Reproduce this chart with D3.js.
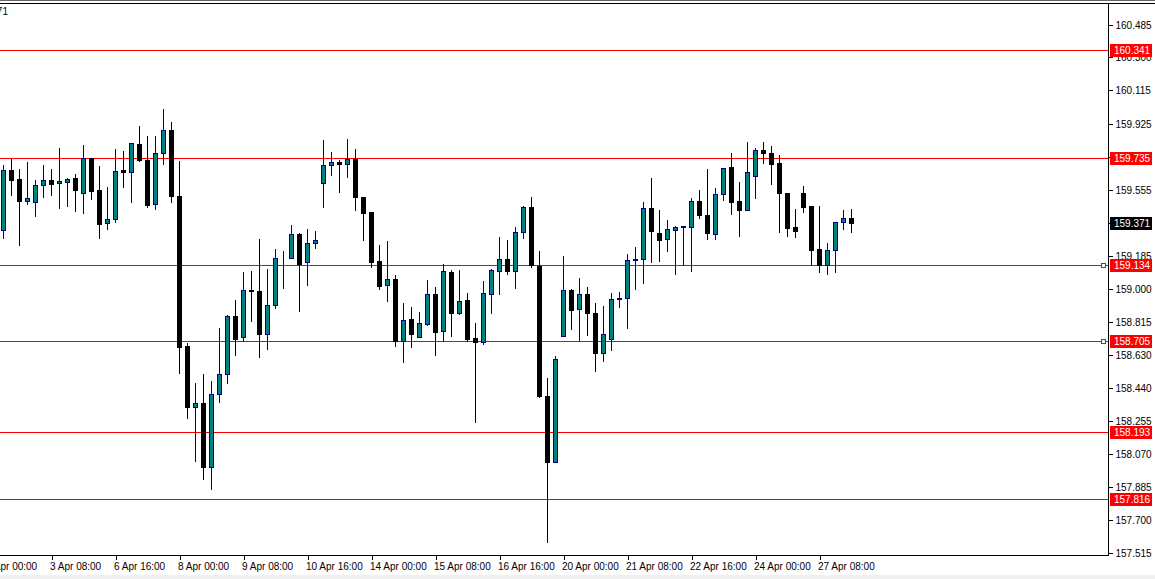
<!DOCTYPE html>
<html>
<head>
<meta charset="utf-8">
<script src="https://cdn.jsdelivr.net/npm/d3@7"></script>
<style>
  html, body { margin: 0; padding: 0; background: #fff; }
  svg { display: block; }
  text { font-family: "Liberation Sans", Arial, sans-serif; font-size: 10px; }
</style>
</head>
<body>
<svg id="chart" width="1155" height="579"></svg>
<script>
// ---------------- DATA (H4 candles) ----------------
const open = [
159.328,159.668,159.617,159.495,159.486,159.582,159.611,159.593,159.598,159.623,
159.537,159.733,159.555,159.368,159.390,159.666,159.655,159.814,159.724,159.475,
159.761,159.892,159.521,158.678,158.337,158.356,157.999,158.406,158.519,158.847,
158.727,158.993,158.987,158.747,158.907,159.171,159.171,159.308,159.149,159.255,
159.597,159.694,159.711,159.700,159.731,159.516,159.431,159.156,159.019,159.055,
158.706,158.830,158.727,158.799,158.969,158.761,159.092,158.865,158.937,158.721,
158.699,158.972,159.098,159.165,159.098,159.317,159.460,159.129,158.397,158.027,
158.732,158.993,158.884,158.969,158.864,158.637,158.716,158.941,158.946,159.160,
159.165,159.452,159.313,159.278,159.328,159.345,159.349,159.493,159.415,159.309,
159.531,159.684,159.493,159.441,159.632,159.780,159.763,159.707,159.540,159.347,
159.538,159.465,159.225,159.135,159.216,159.373,159.396];
const high = [
159.701,159.733,159.679,159.718,159.615,159.700,159.679,159.797,159.630,159.649,
159.814,159.741,159.696,159.579,159.791,159.780,159.825,159.921,159.864,159.864,
160.016,159.943,159.722,158.702,158.476,158.528,158.487,158.785,158.856,158.942,
159.100,159.105,159.285,159.117,159.229,159.218,159.364,159.319,159.341,159.330,
159.842,159.774,159.729,159.848,159.791,159.523,159.431,159.251,159.274,159.083,
158.925,158.903,158.875,159.055,159.014,159.145,159.111,159.111,158.982,158.813,
159.049,159.117,159.296,159.280,159.353,159.471,159.521,159.218,158.504,158.627,
159.190,159.004,159.066,159.014,158.925,158.909,158.982,158.987,159.201,159.240,
159.493,159.628,159.448,159.392,159.358,159.357,159.516,159.561,159.680,159.572,
159.684,159.769,159.606,159.831,159.797,159.831,159.808,159.758,159.540,159.454,
159.583,159.465,159.471,159.261,159.373,159.448,159.454];
const low = [
159.287,159.529,159.248,159.478,159.411,159.517,159.529,159.456,159.467,159.439,
159.427,159.506,159.287,159.338,159.377,159.574,159.489,159.716,159.461,159.450,
159.703,159.489,158.528,158.275,158.033,157.932,157.876,158.365,158.470,158.629,
158.708,158.820,158.618,158.663,158.893,159.006,159.171,158.876,159.023,159.231,
159.462,159.641,159.546,159.630,159.444,159.276,159.124,159.000,158.933,158.680,
158.590,158.674,158.727,158.798,158.629,158.708,158.736,158.860,158.708,158.252,
158.688,158.865,158.972,159.084,159.006,159.287,159.124,158.393,157.578,158.027,
158.732,158.775,158.713,158.741,158.539,158.595,158.657,158.899,158.781,159.000,
159.032,159.152,159.158,159.214,159.083,159.132,159.101,159.398,159.281,159.281,
159.499,159.422,159.296,159.441,159.512,159.707,159.591,159.321,159.298,159.293,
159.433,159.133,159.096,159.081,159.096,159.334,159.321];
const close = [
159.666,159.613,159.495,159.508,159.582,159.610,159.591,159.604,159.615,159.557,
159.733,159.551,159.366,159.390,159.660,159.658,159.818,159.722,159.472,159.761,
159.892,159.523,158.674,158.337,158.356,157.999,158.406,158.519,158.845,158.719,
158.993,158.986,158.747,158.907,159.171,159.173,159.306,159.141,159.255,159.272,
159.694,159.711,159.700,159.731,159.514,159.427,159.152,159.017,159.055,158.706,
158.822,158.747,158.806,158.969,158.758,159.098,158.865,158.929,158.719,158.699,
158.974,159.104,159.165,159.101,159.317,159.460,159.133,158.398,158.027,158.603,
158.993,158.882,158.969,158.865,158.640,158.744,158.941,158.946,159.160,159.165,
159.452,159.326,159.276,159.336,159.345,159.351,159.493,159.416,159.315,159.533,
159.679,159.489,159.441,159.655,159.778,159.765,159.703,159.537,159.343,159.326,
159.461,159.219,159.135,159.216,159.373,159.396,159.371];

// time axis labels (bar index -> label)
const timeTickIndex  = [-2, 6, 14, 22, 30, 38, 46, 54, 62, 70, 78, 86, 94, 102];
const timeTickLabels = ["2 Apr 00:00","3 Apr 08:00","6 Apr 16:00","8 Apr 00:00","9 Apr 08:00",
  "10 Apr 16:00","14 Apr 00:00","15 Apr 08:00","16 Apr 16:00","20 Apr 00:00",
  "21 Apr 08:00","22 Apr 16:00","24 Apr 00:00","27 Apr 08:00"];

// price axis ticks
const priceTicks = [160.485,160.300,160.115,159.925,159.740,159.555,159.370,159.185,
  159.000,158.815,158.630,158.440,158.255,158.070,157.885,157.700,157.515];

// horizontal level lines
const levels = [160.341, 159.735, 159.134, 158.705, 158.193, 157.816];
const levelMarked = [false, false, true, true, false, false];
const lastPrice = 159.371;

// ---------------- DRAWING ----------------
const svg = d3.select("#chart");
const W = 1155, H = 579;
const plotRight = 1108.5, plotTop = 3, plotBottom = 555.5;

svg.append("rect").attr("width", W).attr("height", H).attr("fill", "#fff");

const x = d3.scaleLinear().domain([0, 106]).range([3.5, 3.5 + 8 * 106]);
const y = d3.scaleLinear().domain([157.816, 160.341]).range([499.3, 50.2]);
const py = v => Math.round(y(v)) + 0.5;

const defs = svg.append("defs");
defs.append("clipPath").attr("id", "plotclip").append("rect")
  .attr("x", 0).attr("y", plotTop).attr("width", plotRight).attr("height", plotBottom - plotTop);

// window bits
svg.append("rect").attr("x", 0).attr("y", 575).attr("width", W).attr("height", 4).attr("fill", "#f0f0f0");
svg.append("line").attr("x1", 0).attr("x2", W).attr("y1", 0.5).attr("y2", 0.5).attr("stroke", "#666");
svg.append("line").attr("x1", 0).attr("x2", W).attr("y1", 3.5).attr("y2", 3.5).attr("stroke", "#000");

// title fragment
svg.append("text").attr("x", 8).attr("y", 15).attr("text-anchor", "end").attr("fill", "#000").text("159.371");

const plot = svg.append("g").attr("clip-path", "url(#plotclip)");

// level lines
levels.forEach((lv, i) => {
  plot.append("line").attr("x1", 0).attr("x2", plotRight).attr("y1", py(lv)).attr("y2", py(lv))
    .attr("stroke", "#ff0000").attr("stroke-width", 1).attr("shape-rendering", "crispEdges");
  if (levelMarked[i]) {
    plot.append("rect").attr("x", 1101.5).attr("y", py(lv) - 2).attr("width", 4).attr("height", 4)
      .attr("fill", "#fff").attr("stroke", "#ff0000").attr("shape-rendering", "crispEdges");
  }
});

// candles
const bars = d3.range(open.length).map(i => ({ i, o: open[i], h: high[i], l: low[i], c: close[i] }));
const g = plot.append("g").attr("shape-rendering", "crispEdges");
const bull = d => d.c > d.o || (d.c === d.o);
g.selectAll("line.wick").data(bars).join("line").attr("class", "wick")
  .attr("x1", d => x(d.i)).attr("x2", d => x(d.i))
  .attr("y1", d => py(d.h)).attr("y2", d => py(d.l))
  .attr("stroke", d => bull(d) ? "#000080" : "#000000");
g.selectAll("rect.body").data(bars).join("rect").attr("class", "body")
  .attr("x", d => x(d.i) - 2).attr("width", 4)
  .attr("y", d => Math.min(py(d.o), py(d.c)))
  .attr("height", d => Math.abs(py(d.o) - py(d.c)))
  .attr("fill", d => bull(d) ? "#008080" : "#000000")
  .attr("stroke", d => bull(d) ? "#000080" : "#000000");

// frame
svg.append("line").attr("x1", plotRight).attr("x2", plotRight).attr("y1", plotTop).attr("y2", plotBottom)
  .attr("stroke", "#000").attr("shape-rendering", "crispEdges");
svg.append("line").attr("x1", 0).attr("x2", plotRight).attr("y1", plotBottom).attr("y2", plotBottom)
  .attr("stroke", "#000").attr("shape-rendering", "crispEdges");

// price axis
const yAxis = d3.axisRight(y).tickValues(priceTicks).tickSize(4).tickPadding(3).tickFormat(d3.format(".3f"));
const ya = svg.append("g").attr("transform", `translate(${plotRight},0)`).call(yAxis);
ya.select(".domain").remove();
ya.selectAll(".tick").attr("transform", d => `translate(0,${py(d)})`);
ya.selectAll("line").attr("stroke", "#000").attr("shape-rendering", "crispEdges");
ya.selectAll("text").attr("fill", "#000").style("font-size", "10px").style("font-family", "'Liberation Sans', Arial, sans-serif");

// time axis
const xAxis = d3.axisBottom(x).tickValues(timeTickIndex).tickSize(4).tickPadding(3)
  .tickFormat((d, i) => timeTickLabels[i]);
const xa = svg.append("g").attr("transform", `translate(0,${plotBottom})`).call(xAxis);
xa.select(".domain").remove();
xa.selectAll("line").attr("stroke", "#000").attr("shape-rendering", "crispEdges");
xa.selectAll("text").attr("text-anchor", "start").attr("x", -2).attr("fill", "#000")
  .style("font-size", "10px").style("font-family", "'Liberation Sans', Arial, sans-serif");

// level price boxes
const fmt = d3.format(".3f");
levels.forEach(lv => {
  const yy = py(lv);
  svg.append("rect").attr("x", 1110).attr("y", yy - 6.5).attr("width", 42).attr("height", 13).attr("fill", "#ff0000");
  svg.append("text").attr("x", 1114).attr("y", yy).attr("dy", "0.35em").attr("fill", "#fff").text(fmt(lv));
});
// last price box
svg.append("rect").attr("x", 1110).attr("y", py(lastPrice) - 6.5).attr("width", 42).attr("height", 13).attr("fill", "#000");
svg.append("text").attr("x", 1114).attr("y", py(lastPrice)).attr("dy", "0.35em").attr("fill", "#fff").text(fmt(lastPrice));
</script>
</body>
</html>
